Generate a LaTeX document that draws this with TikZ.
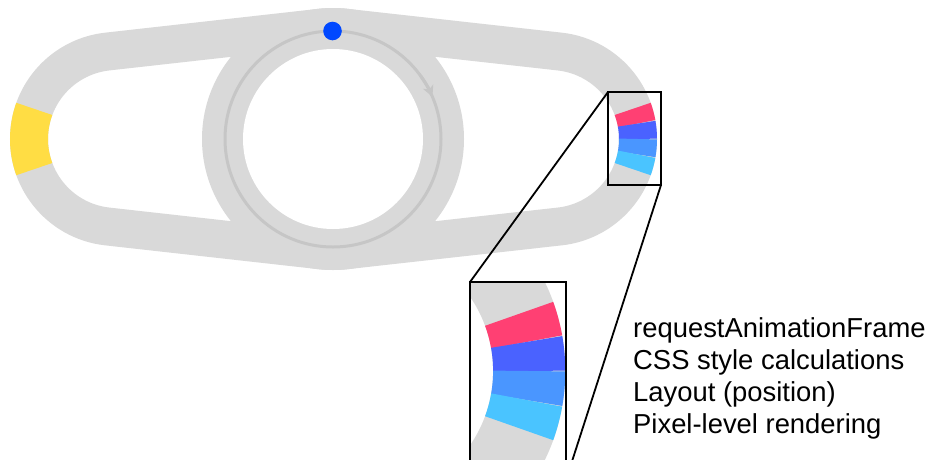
\documentclass[tikz,border=0pt]{standalone}
\usepackage{fontspec}
\newfontfamily\lblfont{Liberation Sans}
\usetikzlibrary{calc,arrows.meta}
\definecolor{bandgray}{RGB}{217,217,217}
\definecolor{ringgray}{RGB}{198,198,198}
\definecolor{dotblue}{RGB}{0,72,255}
\definecolor{yel}{RGB}{255,221,68}
\definecolor{segpink}{RGB}{255,64,115}
\definecolor{segblue}{RGB}{74,98,255}
\definecolor{segmid}{RGB}{74,150,255}
\definecolor{segcyan}{RGB}{74,196,255}
\tikzset{
  bandline/.style={draw=bandgray, line width=38pt, line join=round},
  bigband/.style={draw=bandgray, line width=72.2pt},
  thinring/.style={draw=ringgray, line width=3pt},
  framebox/.style={draw=black, line width=2pt},
  zoomline/.style={draw=black, line width=1.8pt},
  lbl/.style={font=\lblfont\fontsize{27.4pt}{32pt}\selectfont, anchor=base west, inner sep=0pt, text=black}
}
\begin{document}
\begin{tikzpicture}[x=1pt,y=-1pt]
\useasboundingbox (0,0) rectangle (932,459);
\fill[white] (0,0) rectangle (932,459);
\begin{scope}
\clip (0,0) rectangle (932,459);
\coordinate (L) at (117,139);
\coordinate (C) at (333,139);
\coordinate (R) at (550,139);
\pgfmathsetmacro\ta{acos(-24/216)}
\pgfmathsetmacro\tb{acos(24/217)}
% belt
\draw[bandline] ($(L)+(-\ta:88)$) -- ($(C)+(-\ta:112)$)
  arc[start angle=-\ta, end angle=-\tb, radius=112]
  -- ($(R)+(-\tb:88)$)
  arc[start angle=-\tb, end angle=\tb, radius=88]
  -- ($(C)+(\tb:112)$)
  arc[start angle=\tb, end angle=\ta, radius=112]
  -- ($(L)+(\ta:88)$)
  arc[start angle=\ta, end angle=360-\ta, radius=88] -- cycle;
% central ring
\fill[bandgray] (C) circle (131);
\fill[white] (C) circle (90);
\draw[thinring] (C) circle (108);
\draw[thinring, -{Stealth[length=11pt,width=11pt,inset=3pt]}] ($(C)+(-36:108)$) arc[start angle=-36, end angle=-23, radius=108];
\fill[dotblue] (332.5,31) circle (9.3);
% yellow sector
\draw[line width=38pt, draw=yel] ($(L)+(160:88)$) arc[start angle=160, end angle=200, radius=88];
% coloured sectors (small)
\draw[line width=38pt, draw=segpink] ($(R)+(-20:88)$) arc[start angle=-20, end angle=-10, radius=88];
\draw[line width=38pt, draw=segblue] ($(R)+(-10:88)$) arc[start angle=-10, end angle=0, radius=88];
\draw[line width=38pt, draw=segmid] ($(R)+(0:88)$) arc[start angle=0, end angle=10, radius=88];
\draw[line width=38pt, draw=segcyan] ($(R)+(10:88)$) arc[start angle=10, end angle=20, radius=88];
% boxes
\coordinate (s1) at (608,92);
\coordinate (s2) at (661,185);
\coordinate (b1) at (470,282);
\coordinate (b2) at (566,480);
\coordinate (R2) at (362,371);
\begin{scope}
\clip (b1) rectangle (b2);
\fill[white] (b1) rectangle (b2);
\draw[bigband] (R2) circle (167.2);
\draw[line width=72.2pt, draw=segpink] ($(R2)+(-20:167.2)$) arc[start angle=-20, end angle=-10, radius=167.2];
\draw[line width=72.2pt, draw=segblue] ($(R2)+(-10:167.2)$) arc[start angle=-10, end angle=0, radius=167.2];
\draw[line width=72.2pt, draw=segmid] ($(R2)+(0:167.2)$) arc[start angle=0, end angle=10, radius=167.2];
\draw[line width=72.2pt, draw=segcyan] ($(R2)+(10:167.2)$) arc[start angle=10, end angle=20, radius=167.2];
\end{scope}
\draw[framebox] (s1) rectangle (s2);
\draw[framebox] (b1) rectangle (b2);
\draw[zoomline] (s1) -- (b1);
\draw[zoomline] (s2) -- (b2);
% labels
\node[lbl] (t1) at (633,337.5) {requestAnimationFrame};
\node[lbl] (t2) at (633,369.5) {CSS style calculations};
\node[lbl] (t3) at (633,401.5) {Layout (position)};
\node[lbl] (t4) at (633,433.5) {Pixel-level rendering};
\end{scope}
\end{tikzpicture}
\end{document}
